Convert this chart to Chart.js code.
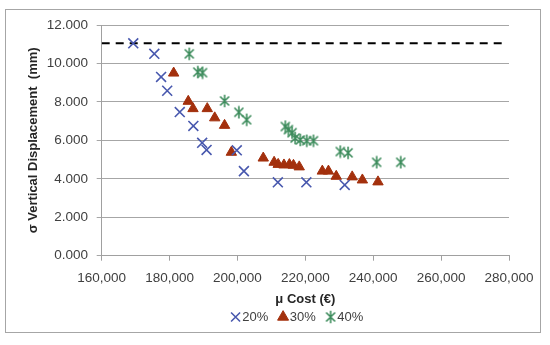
<!DOCTYPE html>
<html>
<head>
<meta charset="utf-8">
<script src="https://cdn.jsdelivr.net/npm/chart.js@4/dist/chart.umd.min.js"></script>
<style>
  html, body { margin: 0; padding: 0; background: #ffffff; }
  #wrap { width: 550px; height: 345px; position: relative; }
</style>
</head>
<body>
<div id="wrap"><canvas id="c" width="550" height="345"></canvas></div>
<script>
// ---------- data ----------
const seriesLabels = ['20%', '30%', '40%'];

const cost20  = [169300, 175500, 177500, 179300, 183000, 187000, 189600, 190900, 199800, 201900, 211900, 220300, 231600];
const sigma20 = [11.05, 10.50, 9.30, 8.58, 7.47, 6.75, 5.87, 5.50, 5.48, 4.40, 3.82, 3.82, 3.68];

const cost30  = [181200, 185500, 186900, 191100, 193300, 196200, 198200, 207600, 210800, 212000, 213700, 215300, 216500, 218200, 225000, 226800, 229100, 233800, 236800, 241400];
const sigma30 = [9.50, 8.03, 7.65, 7.65, 7.17, 6.78, 5.38, 5.08, 4.86, 4.75, 4.72, 4.74, 4.70, 4.62, 4.40, 4.40, 4.13, 4.10, 3.94, 3.84];

const cost40  = [185800, 188300, 189700, 196200, 200400, 202700, 214100, 215000, 216100, 217000, 218500, 220400, 222400, 230300, 232600, 241000, 248100];
const sigma40 = [10.50, 9.55, 9.52, 8.05, 7.46, 7.07, 6.72, 6.56, 6.40, 6.12, 6.02, 5.98, 5.98, 5.42, 5.35, 4.86, 4.86];

const limitCost  = [160000, 278000];
const limitSigma = 11.05;

const xTickValues = [160000, 180000, 200000, 220000, 240000, 260000, 280000];
const yTickValues = [0, 2, 4, 6, 8, 10, 12];

// ---------- helpers ----------
function toPoints(xs, ys) { return xs.map((x, i) => ({ x: x, y: ys[i] })); }
function fmtThousands(v) { return String(Math.round(v)).replace(/\B(?=(\d{3})+(?!\d))/g, ','); }

const FONT = "'Liberation Sans', Arial, sans-serif";
const BLUE = '#4858ae';
const BROWN = '#a3300d';
const GREEN = '#3d8c5c';

function makeStar(color) {
  const c = document.createElement('canvas');
  c.width = 14; c.height = 14;
  const g = c.getContext('2d');
  g.strokeStyle = color;
  g.lineWidth = 1.6;
  g.beginPath();
  g.moveTo(2.5, 2.5); g.lineTo(11.5, 11.5);
  g.moveTo(11.5, 2.5); g.lineTo(2.5, 11.5);
  g.moveTo(7, 0.8); g.lineTo(7, 13.2);
  g.stroke();
  return c;
}
const starImg = makeStar(GREEN);

const framePlugin = {
  id: 'frame',
  beforeDraw(chart) {
    const c = chart.ctx;
    c.save();
    c.fillStyle = '#ffffff';
    c.fillRect(0, 0, chart.width, chart.height);
    c.strokeStyle = '#a6a6a6';
    c.lineWidth = 1;
    c.strokeRect(5.5, 9.5, 535, 323);
    c.restore();
  }
};

const legendShift = {
  id: 'legendShift',
  afterLayout(chart) {
    const l = chart.legend;
    if (l) { l.left -= 6; l.right -= 6; }
  }
};

new Chart(document.getElementById('c'), {
  type: 'scatter',
  data: {
    datasets: [
      { label: seriesLabels[0], data: toPoints(cost20, sigma20), pointStyle: 'crossRot', pointRadius: 7, pointHoverRadius: 7,
        borderColor: BLUE, backgroundColor: BLUE, borderWidth: 1.6 },
      { label: seriesLabels[1], data: toPoints(cost30, sigma30), pointStyle: 'triangle', pointRadius: 6, pointHoverRadius: 6,
        borderColor: BROWN, backgroundColor: BROWN, borderWidth: 1 },
      { label: seriesLabels[2], data: toPoints(cost40, sigma40), pointStyle: starImg, pointRadius: 7,
        borderColor: GREEN, backgroundColor: GREEN, borderWidth: 1.6 },
      { type: 'line', label: 'limit', data: limitCost.map(x => ({ x: x, y: limitSigma })), showLine: true,
        borderColor: '#000000', borderWidth: 2, borderDash: [8, 6], pointRadius: 0, fill: false }
    ]
  },
  options: {
    responsive: false,
    animation: false,
    devicePixelRatio: 1,
    events: [],
    layout: { padding: { left: 0, right: 41, top: 25, bottom: 11.5 } },
    plugins: {
      tooltip: { enabled: false },
      legend: {
        position: 'bottom',
        fullSize: false,
        labels: {
          usePointStyle: true,
          boxWidth: 0.5,
          boxHeight: 9,
          padding: 14.5,
          color: '#404040',
          font: { family: FONT, size: 13 },
          filter: (item) => item.datasetIndex < 3
        }
      }
    },
    scales: {
      x: {
        type: 'linear',
        min: 160000, max: 280000,
        afterBuildTicks: (s) => { s.ticks = xTickValues.map(v => ({ value: v })); },
        ticks: { callback: (v) => fmtThousands(v), color: '#404040', font: { family: FONT, size: 13.5 },
                 padding: 9.2, maxRotation: 0, autoSkip: false },
        grid: { drawOnChartArea: false, drawTicks: true, tickLength: 5, color: '#a0a0a0', lineWidth: 1 },
        border: { display: true, color: '#a0a0a0', width: 1 },
        title: { display: true, text: 'μ Cost (€)', color: '#262626',
                 font: { family: FONT, size: 13, weight: 'bold' }, padding: { top: 0, bottom: -10.8 } },
        afterFit: (s) => { s.height = 40.3; }
      },
      y: {
        type: 'linear',
        min: 0, max: 12,
        afterBuildTicks: (s) => { s.ticks = yTickValues.map(v => ({ value: v })); },
        ticks: { callback: (v) => Number(v).toFixed(3), color: '#404040', font: { family: FONT, size: 13.5 }, padding: 8.7 },
        grid: { color: '#a6a6a6', lineWidth: 1, drawTicks: true, tickLength: 5 },
        border: { display: true, color: '#a0a0a0', width: 1 },
        title: { display: true, text: 'σ Vertical Displacement  (mm)', color: '#262626',
                 font: { family: FONT, size: 13, weight: 'bold' }, padding: { top: 25.2, bottom: 0 } },
        afterFit: (s) => { s.width = 101.7; }
      }
    }
  },
  plugins: [framePlugin, legendShift]
});
</script>
</body>
</html>
